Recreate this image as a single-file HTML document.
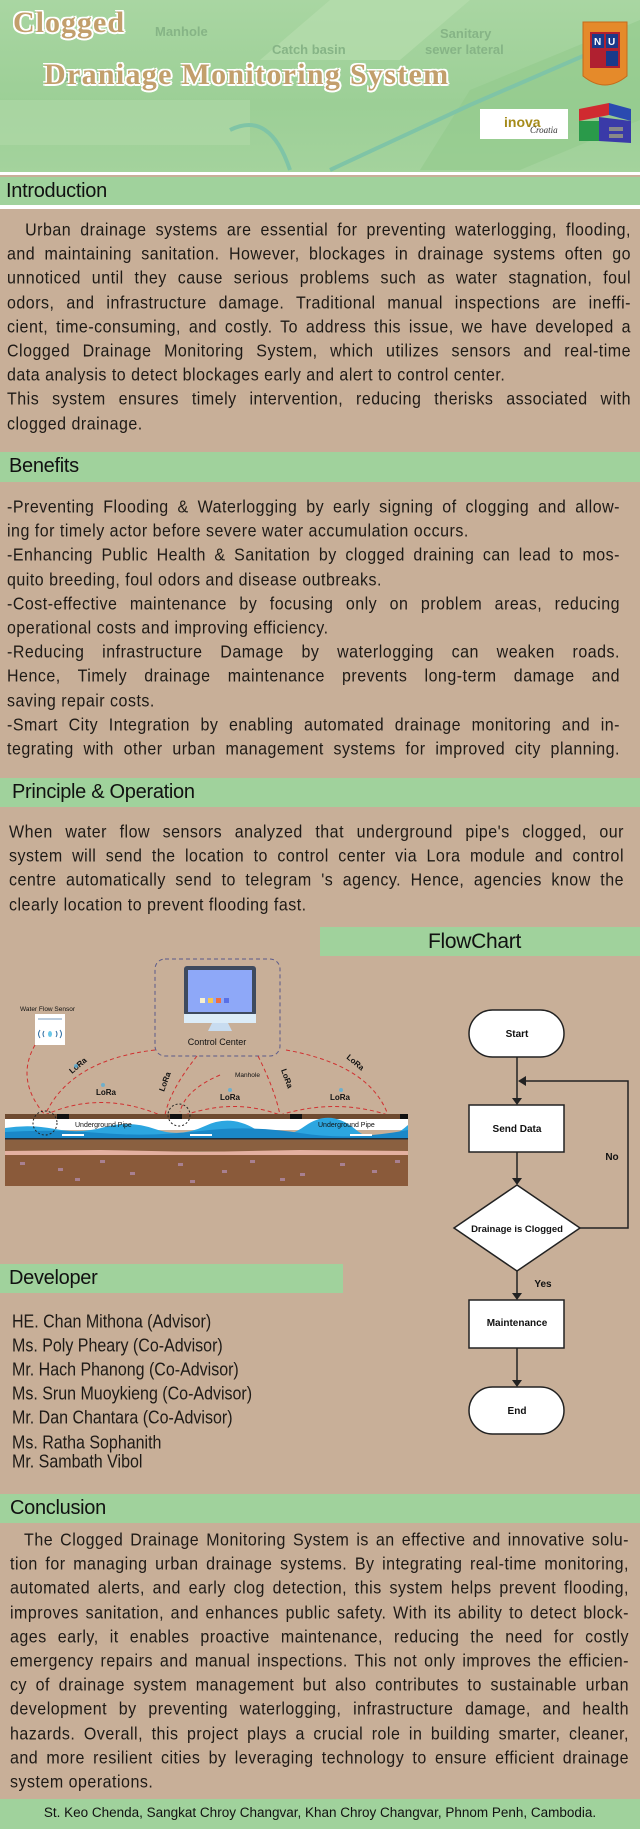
<!DOCTYPE html>
<html><head><meta charset="utf-8">
<style>
*{margin:0;padding:0;box-sizing:border-box}
body{width:640px;height:1829px;position:relative;background:#c8af98;font-family:"Liberation Sans",sans-serif;color:#1e1a16;overflow:hidden}
.bar{position:absolute;background:#a0d29c;font-size:20px;line-height:29px;padding-left:6px;color:#111;letter-spacing:-0.3px}
.t{position:absolute;font-size:16px;letter-spacing:0.5px}
.t div{height:24.2px;line-height:24.2px;text-align:justify;text-align-last:justify;white-space:nowrap;transform:scaleY(1.1)}
.t div.e{text-align-last:left}
.nm{position:absolute;left:12px;font-size:16px;transform:scaleY(1.15);transform-origin:left center;white-space:nowrap}
</style></head><body>

<!-- header -->
<div style="position:absolute;left:0;top:0;width:640px;height:174px;background:linear-gradient(180deg,#a9d6a2 0%,#9ccf96 60%,#a4d39d 100%);overflow:hidden">
<svg width="640" height="174" style="position:absolute;left:0;top:0">
<polygon points="330,0 470,0 400,60 260,60" fill="#b6ddae" opacity=".7"/>
<polygon points="470,90 640,20 640,120 520,170 420,170" fill="#92c98c" opacity=".6"/>
<rect x="0" y="100" width="250" height="45" fill="#b0d9a8" opacity=".6"/>
<path d="M230,130 Q270,110 290,170" stroke="#7fc4a6" stroke-width="4" fill="none"/>
<path d="M330,170 L470,105 L620,40" stroke="#7fc4a6" stroke-width="4" fill="none"/>
<text x="155" y="36" font-family="Liberation Sans" font-weight="bold" font-size="13" fill="#86b486">Manhole</text>
<text x="272" y="54" font-family="Liberation Sans" font-weight="bold" font-size="13" fill="#86b486">Catch basin</text>
<text x="440" y="38" font-family="Liberation Sans" font-weight="bold" font-size="13" fill="#86b486">Sanitary</text>
<text x="425" y="54" font-family="Liberation Sans" font-weight="bold" font-size="13" fill="#86b486">sewer lateral</text>
<text x="60" y="82" font-family="Liberation Sans" font-weight="bold" font-size="13" fill="#86b486">SANITARY</text>
</svg>
<div style="position:absolute;left:13px;top:6px;font-family:'Liberation Serif',serif;font-weight:bold;font-size:30px;color:#c29f6c;letter-spacing:1px;text-shadow:-1.5px -1.5px 0 #fff,1.5px -1.5px 0 #fff,-1.5px 1.5px 0 #fff,1.5px 1.5px 0 #fff,0 2px 0 #fff,2px 0 0 #fff">Clogged</div>
<div style="position:absolute;left:44px;top:58px;font-family:'Liberation Serif',serif;font-weight:bold;font-size:30px;color:#c29f6c;letter-spacing:1.3px;text-shadow:-1.5px -1.5px 0 #fff,1.5px -1.5px 0 #fff,-1.5px 1.5px 0 #fff,1.5px 1.5px 0 #fff,0 2px 0 #fff,2px 0 0 #fff">Draniage Monitoring System</div>
<svg width="50" height="75" style="position:absolute;left:580px;top:18px">
<path d="M3,4 L47,4 L47,58 Q25,76 3,58 Z" fill="#e58a2a" stroke="#c56a1a"/>
<rect x="10" y="14" width="30" height="36" fill="#b02030"/>
<rect x="12" y="16" width="12" height="14" fill="#1a3a8a"/><rect x="26" y="16" width="12" height="14" fill="#1a3a8a"/>
<text x="14" y="27" font-size="10" font-weight="bold" fill="#fff" font-family="Liberation Sans">N</text>
<text x="28" y="27" font-size="10" font-weight="bold" fill="#fff" font-family="Liberation Sans">U</text>
<rect x="26" y="33" width="12" height="15" fill="#1a3a8a"/>
</svg>
<div style="position:absolute;left:480px;top:109px;width:88px;height:30px;background:#fff"><span style="position:absolute;left:24px;top:5px;font:bold 14px 'Liberation Sans';color:#a58b1a">inova</span><span style="position:absolute;left:50px;top:16px;font:italic 9px 'Liberation Serif';color:#333">Croatia</span></div>
<svg width="52" height="40" style="position:absolute;left:579px;top:103px">
<polygon points="0,6 30,0 30,12 0,18" fill="#d02a30"/><polygon points="30,0 52,6 52,18 30,12" fill="#2a4ab0"/>
<rect x="0" y="18" width="20" height="20" fill="#2a9a4a"/><polygon points="20,14 52,18 52,40 20,38" fill="#3a3aa8"/>
<rect x="30" y="24" width="14" height="4" fill="#888"/><rect x="30" y="31" width="14" height="4" fill="#888"/>
</svg>
</div>
<div style="position:absolute;left:0;top:172px;width:640px;height:3px;background:#fff"></div>

<div class="bar" style="left:0;top:177px;width:640px;height:28px;line-height:28px">Introduction</div>
<div style="position:absolute;left:0;top:205px;width:640px;height:4px;background:#fff"></div>
<div class="t" style="left:7px;top:219px;width:624px">
<div>&nbsp;&nbsp;Urban drainage systems are essential for preventing waterlogging, flooding,</div>
<div>and maintaining sanitation. However, blockages in drainage systems often go</div>
<div>unnoticed until they cause serious problems such as water stagnation, foul</div>
<div>odors, and infrastructure damage. Traditional manual inspections are ineffi-</div>
<div>cient, time-consuming, and costly. To address this issue, we have developed a</div>
<div>Clogged Drainage Monitoring System, which utilizes sensors and real-time</div>
<div class="e">data analysis to detect blockages early and alert to control center.</div>
<div>This system ensures timely intervention, reducing therisks associated with</div>
<div class="e">clogged drainage.</div>
</div>

<div class="bar" style="left:0;top:452px;width:640px;height:30px;padding-left:9px">Benefits</div>
<div class="t" style="left:7px;top:496px;width:613px">
<div>-Preventing Flooding &amp; Waterlogging by early signing of clogging and allow-</div>
<div class="e">ing for timely actor before severe water accumulation occurs.</div>
<div>-Enhancing Public Health &amp; Sanitation by clogged draining can lead to mos-</div>
<div class="e">quito breeding, foul odors and disease outbreaks.</div>
<div>-Cost-effective maintenance by focusing only on problem areas, reducing</div>
<div class="e">operational costs and improving efficiency.</div>
<div>-Reducing infrastructure Damage by waterlogging can weaken roads.</div>
<div>Hence, Timely drainage maintenance prevents long-term damage and</div>
<div class="e">saving repair costs.</div>
<div>-Smart City Integration by enabling automated drainage monitoring and in-</div>
<div>tegrating with other urban management systems for improved city planning.</div>
</div>

<div class="bar" style="left:0;top:778px;width:640px;height:29px;padding-left:12px">Principle &amp; Operation</div>
<div class="t" style="left:9px;top:821px;width:615px">
<div>When water flow sensors analyzed that underground pipe's clogged, our</div>
<div>system will send the location to control center via Lora module and control</div>
<div>centre automatically send to telegram 's agency. Hence, agencies know the</div>
<div class="e">clearly location to prevent flooding fast.</div>
</div>

<div class="bar" style="left:320px;top:927px;width:320px;height:29px;padding-left:108px;font-size:21px">FlowChart</div>

<svg width="640" height="560" style="position:absolute;left:0;top:950px" font-family="Liberation Sans">
<g transform="translate(0,-950)">
<rect x="155" y="959" width="125" height="97" rx="10" fill="none" stroke="#5a5a8a" stroke-dasharray="4,3"/>
<rect x="184" y="966" width="72" height="50" rx="3" fill="#3e4a5e"/>
<rect x="188" y="970" width="64" height="42" fill="#8ea8f8"/>
<rect x="184" y="1014" width="72" height="9" fill="#dcecf8"/>
<polygon points="212,1023 228,1023 232,1031 208,1031" fill="#c8dcf0"/>
<rect x="200" y="998" width="5" height="5" fill="#f8f0d0"/><rect x="208" y="998" width="5" height="5" fill="#f8c850"/><rect x="216" y="998" width="5" height="5" fill="#f07040"/><rect x="224" y="998" width="5" height="5" fill="#5870e8"/>
<text x="217" y="1045" font-size="9" text-anchor="middle" fill="#111">Control Center</text>
<text x="20" y="1011" font-size="6.5" fill="#111">Water Flow Sensor</text>
<rect x="35" y="1014" width="30" height="31" fill="#fff"/>
<path d="M40,1030 q-3,4 0,8 M60,1030 q3,4 0,8 M44,1031 q-2,3 0,6 M56,1031 q2,3 0,6" stroke="#2a6aa0" fill="none"/>
<ellipse cx="50" cy="1034" rx="2" ry="3" fill="#6ac8e8"/>
<rect x="38" y="1018" width="24" height="2" fill="#bcd"/>
<g stroke="#d03030" stroke-dasharray="4,3" fill="none" stroke-width="1">
<path d="M35,1045 Q15,1080 45,1115"/>
<path d="M155,1050 Q70,1060 45,1115"/>
<path d="M197,1056 Q170,1090 165,1115"/>
<path d="M220,1075 Q185,1090 180,1112"/>
<path d="M258,1056 Q275,1090 280,1115"/>
<path d="M286,1050 Q370,1065 388,1115"/>
<path d="M45,1115 Q100,1090 160,1115"/>
<path d="M185,1115 Q235,1098 280,1115"/>
<path d="M280,1115 Q335,1098 388,1115"/>
</g>
<text x="235" y="1077" font-size="6.5" fill="#111">Manhole</text>
<g font-size="8" font-weight="bold" fill="#111">
<text transform="translate(72,1074) rotate(-40)">LoRa</text>
<text x="96" y="1095">LoRa</text>
<text transform="translate(164,1092) rotate(-70)">LoRa</text>
<text x="220" y="1100">LoRa</text>
<text transform="translate(281,1070) rotate(70)">LoRa</text>
<text transform="translate(346,1058) rotate(40)">LoRa</text>
<text x="330" y="1100">LoRa</text>
</g>
<g fill="#5ab0d8" opacity=".8"><circle cx="76" cy="1066" r="2"/><circle cx="103" cy="1085" r="2"/><circle cx="230" cy="1090" r="2"/><circle cx="341" cy="1090" r="2"/></g>
<rect x="5" y="1114" width="403" height="5" fill="#6e4a30"/>
<rect x="57" y="1114" width="12" height="5" fill="#111"/><rect x="170" y="1114" width="12" height="5" fill="#111"/><rect x="290" y="1114" width="12" height="5" fill="#111"/><rect x="400" y="1114" width="8" height="5" fill="#111"/>
<rect x="5" y="1119" width="403" height="11" fill="#fff"/>
<path d="M5,1128 Q30,1124 55,1129 T105,1127 T155,1129 T205,1126 T255,1129 T305,1126 T355,1129 T408,1125 L408,1139 L5,1139 Z" fill="#2ca6e0"/>
<path d="M5,1132 Q50,1129 100,1133 T200,1131 T300,1133 T408,1130 L408,1139 L5,1139 Z" fill="#1a88c8"/>
<rect x="5" y="1138" width="403" height="1.5" fill="#1e3040"/>
<g fill="#fff"><rect x="62" y="1134" width="22" height="2"/><rect x="190" y="1134" width="22" height="2"/><rect x="350" y="1134" width="22" height="2"/></g>
<text x="75" y="1127" font-size="7" fill="#111">Underground Pipe</text>
<text x="318" y="1127" font-size="7" fill="#111">Underground Pipe</text>
<rect x="5" y="1139.5" width="403" height="12" fill="#8a6040"/>
<path d="M5,1151 L100,1150 L200,1152 L300,1150 L408,1151 L408,1155 L5,1155 Z" fill="#e4b0a0"/>
<rect x="5" y="1155" width="403" height="31" fill="#8a5a3a"/>
<g fill="#a88090"><rect x="20" y="1162" width="5" height="3"/><rect x="58" y="1168" width="5" height="3"/><rect x="100" y="1160" width="5" height="3"/><rect x="130" y="1172" width="5" height="3"/><rect x="178" y="1163" width="5" height="3"/><rect x="222" y="1170" width="5" height="3"/><rect x="250" y="1160" width="5" height="3"/><rect x="300" y="1173" width="5" height="3"/><rect x="340" y="1163" width="5" height="3"/><rect x="372" y="1170" width="5" height="3"/><rect x="395" y="1160" width="5" height="3"/><rect x="75" y="1178" width="5" height="3"/><rect x="190" y="1180" width="5" height="3"/><rect x="280" y="1178" width="5" height="3"/></g>
<circle cx="45" cy="1123" r="12" fill="none" stroke="#222" stroke-dasharray="2,2"/>
<circle cx="179" cy="1115" r="11" fill="none" stroke="#222" stroke-dasharray="2,2"/>

<g stroke="#222" stroke-width="1.5" fill="#fff">
<rect x="469" y="1010" width="95" height="47" rx="23.5"/>
<rect x="469" y="1105" width="95" height="47"/>
<polygon points="517,1185 580,1228 517,1271 454,1228"/>
<rect x="469" y="1300" width="95" height="48"/>
<rect x="469" y="1387" width="95" height="47" rx="23.5"/>
</g>
<g stroke="#222" stroke-width="1.5" fill="none">
<line x1="517" y1="1057" x2="517" y2="1100"/>
<line x1="517" y1="1152" x2="517" y2="1180"/>
<line x1="517" y1="1271" x2="517" y2="1295"/>
<line x1="517" y1="1348" x2="517" y2="1382"/>
<polyline points="580,1228 628,1228 628,1081 524,1081"/>
</g>
<g fill="#222">
<polygon points="512,1098 522,1098 517,1105"/>
<polygon points="512,1178 522,1178 517,1185"/>
<polygon points="512,1293 522,1293 517,1300"/>
<polygon points="512,1380 522,1380 517,1387"/>
<polygon points="518,1081 526,1076 526,1086"/>
</g>
<g font-size="10" font-weight="bold" fill="#111" text-anchor="middle">
<text x="517" y="1037">Start</text>
<text x="517" y="1132">Send Data</text>
<text x="517" y="1232" font-size="9.5">Drainage is Clogged</text>
<text x="517" y="1326">Maintenance</text>
<text x="517" y="1414">End</text>
<text x="612" y="1160">No</text>
<text x="543" y="1287">Yes</text>
</g>
</g>
</svg>

<div class="bar" style="left:0;top:1264px;width:343px;height:29px;padding-left:9px">Developer</div>
<div class="nm" style="top:1314px">HE. Chan Mithona (Advisor)</div>
<div class="nm" style="top:1338px">Ms. Poly Pheary (Co-Advisor)</div>
<div class="nm" style="top:1362px">Mr. Hach Phanong (Co-Advisor)</div>
<div class="nm" style="top:1386px">Ms. Srun Muoykieng (Co-Advisor)</div>
<div class="nm" style="top:1410px">Mr. Dan Chantara (Co-Advisor)</div>
<div class="nm" style="top:1435px">Ms. Ratha Sophanith</div>
<div class="nm" style="top:1454px">Mr. Sambath Vibol</div>

<div class="bar" style="left:0;top:1494px;width:640px;height:29px;padding-left:10px">Conclusion</div>
<div class="t" style="left:10px;top:1529px;width:619px">
<div>&nbsp;&nbsp;The Clogged Drainage Monitoring System is an effective and innovative solu-</div>
<div>tion for managing urban drainage systems. By integrating real-time monitoring,</div>
<div>automated alerts, and early clog detection, this system helps prevent flooding,</div>
<div>improves sanitation, and enhances public safety. With its ability to detect block-</div>
<div>ages early, it enables proactive maintenance, reducing the need for costly</div>
<div>emergency repairs and manual inspections. This not only improves the efficien-</div>
<div>cy of drainage system management but also contributes to sustainable urban</div>
<div>development by preventing waterlogging, infrastructure damage, and health</div>
<div>hazards. Overall, this project plays a crucial role in building smarter, cleaner,</div>
<div>and more resilient cities by leveraging technology to ensure efficient drainage</div>
<div class="e">system operations.</div>
</div>

<div style="position:absolute;left:0;top:1799px;width:640px;height:30px;background:#a0d29c;text-align:center;font-size:13.5px;line-height:28px;color:#111">St. Keo Chenda, Sangkat Chroy Changvar, Khan Chroy Changvar, Phnom Penh, Cambodia.</div>
</body></html>
